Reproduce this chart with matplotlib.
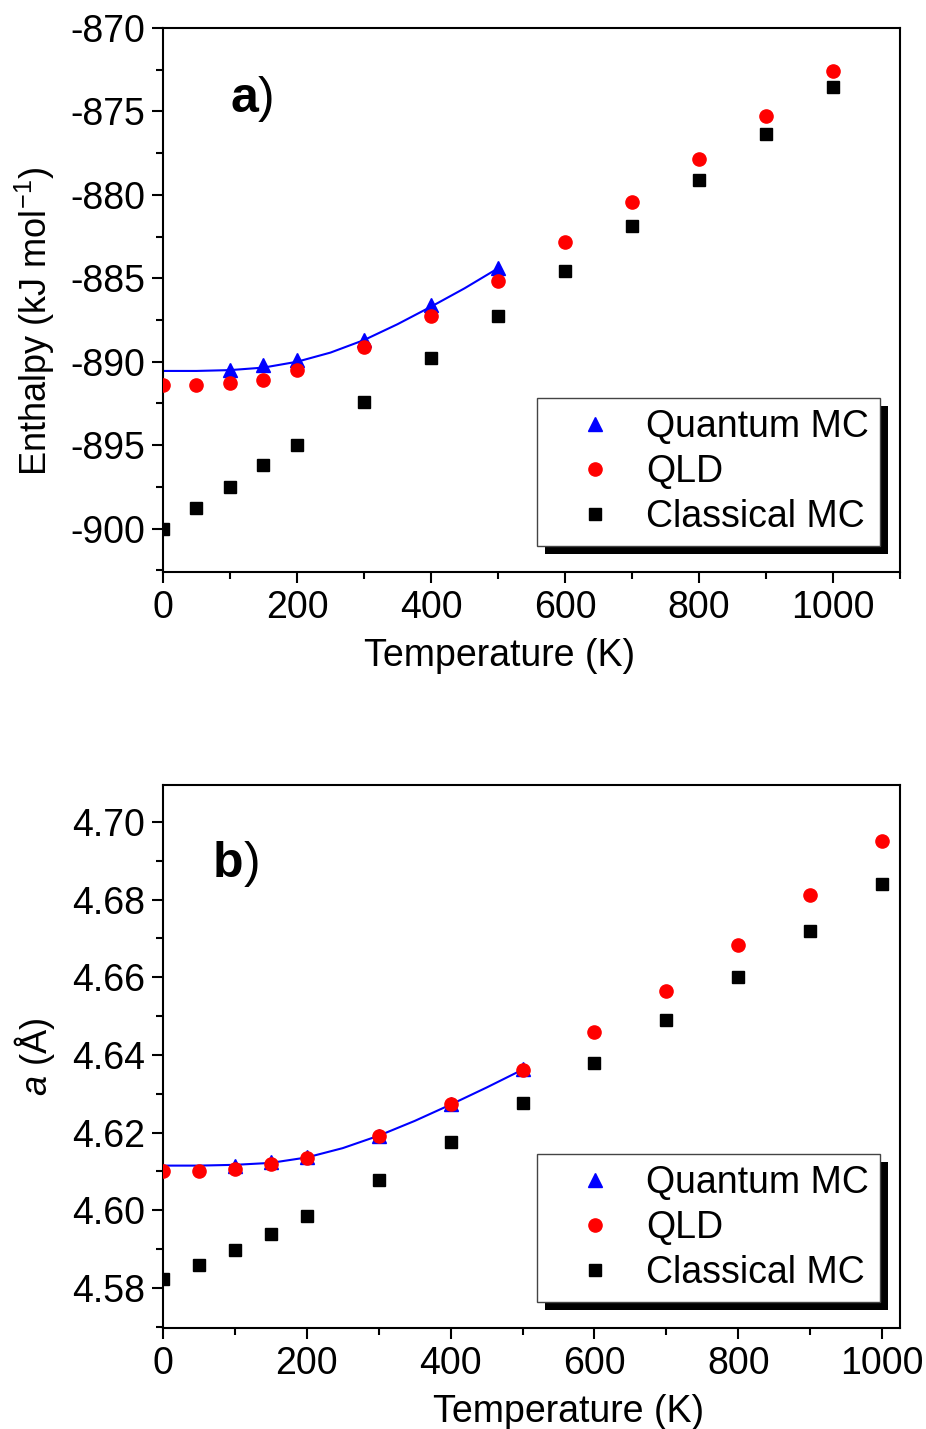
import matplotlib.pyplot as plt
from matplotlib.ticker import MultipleLocator, FormatStrFormatter
from matplotlib.patches import Rectangle

plt.rcParams['font.family'] = ['Liberation Sans', 'DejaVu Sans']
plt.rcParams['mathtext.fontset'] = 'custom'
plt.rcParams['mathtext.rm'] = 'Liberation Sans'
plt.rcParams['mathtext.it'] = 'Liberation Sans:italic'

# temperatures (K)
temp_qmc = [100, 150, 200, 300, 400, 500]
temp_all = [0, 50, 100, 150, 200, 300, 400, 500, 600, 700, 800, 900, 1000]
temp_fit = [0, 50, 100, 150, 200, 250, 300, 350, 400, 450, 500]

# a) enthalpy (kJ/mol)
h_qmc = [-890.5, -890.2, -889.9, -888.7, -886.6, -884.4]
h_qld = [-891.4, -891.4, -891.3, -891.1, -890.5, -889.1, -887.25, -885.15,
         -882.85, -880.4, -877.85, -875.25, -872.6]
h_cl = [-900.0, -898.75, -897.5, -896.2, -895.0, -892.4, -889.8, -887.25,
        -884.55, -881.85, -879.1, -876.35, -873.55]
h_fit = [-890.55, -890.55, -890.5, -890.35, -890.0, -889.45, -888.7, -887.75,
         -886.7, -885.6, -884.4]

# b) lattice parameter (A)
a_qmc = [4.6115, 4.6125, 4.6138, 4.6192, 4.6274, 4.6364]
a_qld = [4.6102, 4.6102, 4.6107, 4.6118, 4.6135, 4.6192, 4.6274, 4.6362,
         4.6460, 4.6565, 4.6683, 4.6812, 4.6951]
a_cl = [4.5824, 4.5860, 4.5898, 4.5939, 4.5986, 4.6079, 4.6176, 4.6277,
        4.6380, 4.6490, 4.6601, 4.6719, 4.6840]
a_fit = [4.6115, 4.6115, 4.6117, 4.6122, 4.6136, 4.6160, 4.6192, 4.6230,
         4.6272, 4.6316, 4.6362]

FS = 27


def make_panel(ax, y_qmc, y_qld, y_cl, y_fit, xlim, ylim, ymaj, ymin, yfmt,
               ylabel, tag, tag_xy, xlab_x, ylab_y):
    ax.plot(temp_fit, y_fit, color='blue', lw=1.5, zorder=2)
    ax.plot(temp_qmc, y_qmc, '^', color='blue', ms=9.5, ls='none', label='Quantum MC', zorder=3)
    ax.plot(temp_all, y_qld, 'o', color='red', ms=9.5, ls='none', label='QLD', zorder=3)
    ax.plot(temp_all, y_cl, 's', color='black', ms=8, ls='none', label='Classical MC', zorder=3)
    ax.set_xlim(*xlim)
    ax.set_ylim(*ylim)
    ax.xaxis.set_major_locator(MultipleLocator(200))
    ax.xaxis.set_minor_locator(MultipleLocator(100))
    ax.yaxis.set_major_locator(MultipleLocator(ymaj))
    ax.yaxis.set_minor_locator(MultipleLocator(ymin))
    ax.yaxis.set_major_formatter(FormatStrFormatter(yfmt))
    ax.tick_params(which='both', direction='out', width=1.5, labelsize=FS, top=False, right=False)
    ax.tick_params(which='major', length=8, pad=5)
    ax.tick_params(which='minor', length=5)
    for s in ax.spines.values():
        s.set_linewidth(1.5)
    ax.set_xlabel('Temperature (K)', fontsize=FS)
    ax.set_ylabel(ylabel, fontsize=FS - 1)
    ax.xaxis.set_label_coords(xlab_x, -0.122)
    ax.yaxis.set_label_coords(-0.144, ylab_y)
    t = ax.text(tag_xy[0], tag_xy[1], tag, transform=ax.transAxes, fontsize=36,
                fontweight='bold', va='baseline')
    ax.annotate(')', xy=(1, 0), xycoords=t, va='bottom', ha='left', fontsize=36)
    leg = ax.legend(loc='lower right', bbox_to_anchor=(0.973, 0.048), borderaxespad=0,
                    fontsize=FS, frameon=True, fancybox=False, edgecolor='#444444',
                    framealpha=1, borderpad=0.3, handletextpad=0.1, labelspacing=0.23,
                    handlelength=2.5)
    leg.get_frame().set_linewidth(1.0)
    leg.set_zorder(6)
    return leg


fig = plt.figure(figsize=(9.26, 14.29), dpi=100)
ax1 = fig.add_axes([0.176, 0.5997, 0.796, 0.3807])
ax2 = fig.add_axes([0.176, 0.0707, 0.796, 0.380])

legs = [
    make_panel(ax1, h_qmc, h_qld, h_cl, h_fit, (0, 1100), (-902.6, -870), 5, 2.5, '%d',
               'Enthalpy (kJ mol$^{-1}$)', 'a', (0.091, 0.846), 0.457, 0.461),
    make_panel(ax2, a_qmc, a_qld, a_cl, a_fit, (0, 1025), (4.5697, 4.7095), 0.02, 0.01, '%.2f',
               '$a$ (Å)', 'b', (0.068, 0.83), 0.55, 0.5),
]

# drop shadow behind each legend box
fig.canvas.draw()
inv = fig.transFigure.inverted()
for ax, leg in zip([ax1, ax2], legs):
    bb = leg.get_window_extent()
    (x0, y0), (x1, y1) = inv.transform([(bb.x0 + 8, bb.y0 - 8), (bb.x1 + 8, bb.y1 - 8)])
    ax.add_patch(Rectangle((x0, y0), x1 - x0, y1 - y0, transform=fig.transFigure,
                           facecolor='black', edgecolor='none', zorder=5, clip_on=False))

fig.savefig('out.png', dpi=100)
